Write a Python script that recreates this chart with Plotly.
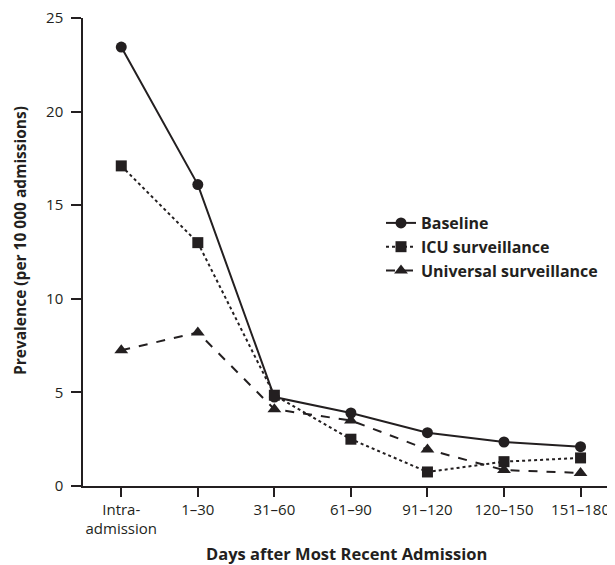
import plotly.graph_objects as go

categories = ["Intra-<br>admission", "1–30", "31–60", "61–90", "91–120", "120–150", "151–180"]
baseline = [23.45, 16.1, 4.75, 3.9, 2.85, 2.35, 2.1]
icu = [17.1, 13.0, 4.85, 2.5, 0.75, 1.3, 1.5]
universal = [7.25, 8.2, 4.1, 3.5, 1.95, 0.85, 0.7]
y_ticks = [0, 5, 10, 15, 20, 25]

INK = "#231f20"
FONT = "Open Sans"

# the page body has an 8px margin; lay the figure out in window coordinates
OFF = 8
WIN_W, WIN_H = 615, 565
W, H = WIN_W - OFF, WIN_H - OFF
PLOT_L, PLOT_R, PLOT_T, PLOT_B = 83, 615, 18, 486   # window coords
L = PLOT_L - OFF
T = PLOT_T - OFF
R = WIN_W - PLOT_R
B = WIN_H - PLOT_B
PW = PLOT_R - PLOT_L
PH = PLOT_B - PLOT_T


def px(xw):
    return (xw - PLOT_L) / PW


def py(yw):
    return (PLOT_B - yw) / PH


fig = go.Figure()
fig.add_trace(go.Scatter(x=categories, y=baseline, name="Baseline", mode="lines+markers",
                         line=dict(color=INK, width=2, dash="solid"),
                         marker=dict(symbol="circle", size=11, color=INK)))
fig.add_trace(go.Scatter(x=categories, y=icu, name="ICU surveillance", mode="lines+markers",
                         line=dict(color=INK, width=2, dash="dot"),
                         marker=dict(symbol="square", size=11, color=INK)))
fig.add_trace(go.Scatter(x=categories, y=universal, name="Universal surveillance", mode="lines+markers",
                         line=dict(color=INK, width=2, dash="dash"),
                         marker=dict(symbol="triangle-up", size=12, color=INK)))

fig.update_layout(
    width=W, height=H,
    margin=dict(l=L, r=R, t=T, b=B, autoexpand=False),
    paper_bgcolor="white", plot_bgcolor="white",
    font=dict(family=FONT, size=15, color=INK),
    showlegend=True,
    legend=dict(x=px(381), y=py(206), xanchor="left", yanchor="top",
                font=dict(family=FONT, size=16, color=INK, weight="bold"),
                bgcolor="rgba(0,0,0,0)", tracegroupgap=0, itemwidth=30),
    xaxis=dict(type="category", range=[-0.5, 6.45], showline=True, linecolor=INK, linewidth=1.5,
               ticks="outside", ticklen=9, tickwidth=1.5, tickcolor=INK, showgrid=False, zeroline=False,
               automargin=False, ticklabeloverflow="allow",
               tickfont=dict(family=FONT, size=15, color=INK)),
    yaxis=dict(range=[0, 25], tickvals=y_ticks, showline=True, linecolor=INK, linewidth=1.5,
               ticks="outside", ticklen=10, tickwidth=1.5, tickcolor=INK, showgrid=False, zeroline=False,
               automargin=False, ticklabeloverflow="allow", ticklabelstandoff=5,
               tickfont=dict(family=FONT, size=15, color=INK)),
    annotations=[
        dict(text="<b>Days after Most Recent Admission</b>", xref="paper", yref="paper",
             x=px(346), y=py(553), xanchor="center", yanchor="middle", showarrow=False,
             font=dict(family=FONT, size=16.5, color=INK)),
        dict(text="<b>Prevalence (per 10 000 admissions)</b>", xref="paper", yref="paper",
             x=px(20), y=py(241), xanchor="center", yanchor="middle",
             textangle=-90, showarrow=False, font=dict(family=FONT, size=15.5, color=INK)),
    ],
)

fig.write_html("out.html")
